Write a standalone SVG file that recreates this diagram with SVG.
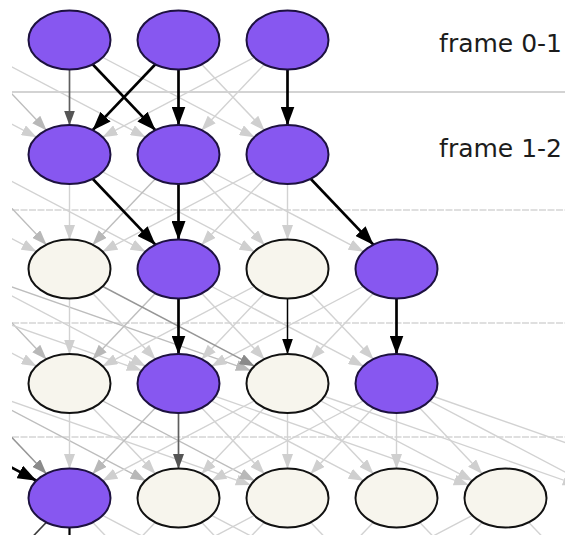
<svg xmlns="http://www.w3.org/2000/svg" width="565" height="535" viewBox="0 0 565 535">
  <defs>
    <style>
      .sep{stroke:#c0c0c0;stroke-width:1.2;stroke-dasharray:7 1.5;fill:none}
      .sep0{stroke:#a8a8a8;stroke-width:1.1;fill:none}
      line{fill:none}
      .f1{stroke:#d2d2d2;stroke-width:1.4;marker-end:url(#a1)}
      .f2{stroke:#bdbdbd;stroke-width:1.4;marker-end:url(#a2)}
      .g1{stroke:#969696;stroke-width:1.5;marker-end:url(#a3)}
      .g2{stroke:#5e5e5e;stroke-width:1.7;marker-end:url(#a4)}
      .b1{stroke:#000;stroke-width:2.7;marker-end:url(#a5)}
      .b2{stroke:#000;stroke-width:1.5;marker-end:url(#a6)}
      .n-on{fill:#8757f0;stroke:#1d1140;stroke-width:2}
      .n-off{fill:#f7f5ed;stroke:#111;stroke-width:2}
      .lbl{font-family:"DejaVu Sans",sans-serif;font-size:25px;fill:#1c1c1c}
    </style>
    <marker id="a1" markerUnits="userSpaceOnUse" markerWidth="15" markerHeight="11" refX="15" refY="5.5" orient="auto"><path d="M0,0L15,5.5L0,11z" fill="#cfcfcf"/></marker>
    <marker id="a2" markerUnits="userSpaceOnUse" markerWidth="15" markerHeight="11" refX="15" refY="5.5" orient="auto"><path d="M0,0L15,5.5L0,11z" fill="#b8b8b8"/></marker>
    <marker id="a3" markerUnits="userSpaceOnUse" markerWidth="15" markerHeight="11" refX="15" refY="5.5" orient="auto"><path d="M0,0L15,5.5L0,11z" fill="#8a8a8a"/></marker>
    <marker id="a4" markerUnits="userSpaceOnUse" markerWidth="15" markerHeight="11" refX="15" refY="5.5" orient="auto"><path d="M0,0L15,5.5L0,11z" fill="#555"/></marker>
    <marker id="a5" markerUnits="userSpaceOnUse" markerWidth="19" markerHeight="14" refX="19" refY="7" orient="auto"><path d="M0,0L19,7L0,14z" fill="#000"/></marker>
    <marker id="a6" markerUnits="userSpaceOnUse" markerWidth="16" markerHeight="11" refX="16" refY="5.5" orient="auto"><path d="M0,0L16,5.5L0,11z" fill="#000"/></marker>
    <clipPath id="plot"><rect x="12" y="0" width="553" height="535"/></clipPath>
  </defs>

  <rect width="565" height="535" fill="#fff"/>

  <!-- frame separators -->
  <g id="separators">
    <line class="sep0" x1="12" y1="92" x2="565" y2="92"/>
    <line class="sep" x1="12" y1="210" x2="565" y2="210"/>
    <line class="sep" x1="12" y1="323" x2="565" y2="323"/>
    <line class="sep" x1="12" y1="437" x2="565" y2="437"/>
  </g>

  <g id="connectors" clip-path="url(#plot)">
    <!-- frame 0-1 -->
    <line class="f1" x1="-148.5" y1="40" x2="36.6" y2="137.2"/>
    <line class="f2" x1="-39.5" y1="40" x2="46.6" y2="130.4"/>
    <line class="f1" x1="-39.5" y1="40" x2="145.6" y2="137.2"/>
    <line class="f1" x1="69.5" y1="40" x2="254.6" y2="137.2"/>
    <line class="f1" x1="178.5" y1="40" x2="264.6" y2="130.4"/>
    <line class="f1" x1="287.5" y1="40" x2="201.4" y2="130.4"/>
    <line class="f1" x1="287.5" y1="40" x2="102.4" y2="137.2"/>

    <!-- frame 1-2 -->
    <line class="f1" x1="-148.5" y1="154.5" x2="36.6" y2="251.7"/>
    <line class="f2" x1="-39.5" y1="154.5" x2="46.6" y2="244.9"/>
    <line class="f1" x1="-39.5" y1="154.5" x2="145.6" y2="251.7"/>
    <line class="f1" x1="69.5" y1="154.5" x2="69.5" y2="240"/>
    <line class="f1" x1="69.5" y1="154.5" x2="254.6" y2="251.7"/>
    <line class="f2" x1="178.5" y1="154.5" x2="92.4" y2="244.9"/>
    <line class="f1" x1="178.5" y1="154.5" x2="264.6" y2="244.9"/>
    <line class="f1" x1="178.5" y1="154.5" x2="363.6" y2="251.7"/>
    <line class="f1" x1="287.5" y1="154.5" x2="102.4" y2="251.7"/>
    <line class="f1" x1="287.5" y1="154.5" x2="201.4" y2="244.9"/>
    <line class="f1" x1="287.5" y1="154.5" x2="287.5" y2="240"/>

    <!-- frame 2-3 -->
    <line class="f1" x1="-148.5" y1="269" x2="36.6" y2="366.2"/>
    <line class="f2" x1="-39.5" y1="269" x2="46.6" y2="359.4"/>
    <line class="f1" x1="-39.5" y1="269" x2="145.6" y2="366.2"/>
    <line class="f1" x1="-148.5" y1="269" x2="141.8" y2="370.6"/>
    <line class="f2" x1="-39.5" y1="269" x2="250.8" y2="370.6"/>
    <line class="f1" x1="69.5" y1="269" x2="69.5" y2="354.5"/>
    <line class="f1" x1="69.5" y1="269" x2="155.6" y2="359.4"/>
    <line class="f2" x1="178.5" y1="269" x2="92.4" y2="359.4"/>
    <line class="f1" x1="178.5" y1="269" x2="264.6" y2="359.4"/>
    <line class="f1" x1="178.5" y1="269" x2="363.6" y2="366.2"/>
    <line class="f1" x1="287.5" y1="269" x2="102.4" y2="366.2"/>
    <line class="f1" x1="287.5" y1="269" x2="201.4" y2="359.4"/>
    <line class="f1" x1="287.5" y1="269" x2="373.6" y2="359.4"/>
    <line class="f1" x1="396.5" y1="269" x2="211.4" y2="366.2"/>
    <line class="f1" x1="396.5" y1="269" x2="310.4" y2="359.4"/>

    <!-- frame 3-4 -->
    <line class="g1" x1="-39.5" y1="383.5" x2="46.6" y2="473.9"/>
    <line class="f2" x1="-39.5" y1="383.5" x2="145.6" y2="480.7"/>
    <line class="f1" x1="-39.5" y1="383.5" x2="250.8" y2="485.1"/>
    <line class="f1" x1="69.5" y1="383.5" x2="69.5" y2="469"/>
    <line class="f1" x1="69.5" y1="383.5" x2="155.6" y2="473.9"/>
    <line class="f2" x1="69.5" y1="383.5" x2="254.6" y2="480.7"/>
    <line class="f2" x1="178.5" y1="383.5" x2="92.4" y2="473.9"/>
    <line class="f1" x1="178.5" y1="383.5" x2="264.6" y2="473.9"/>
    <line class="f1" x1="178.5" y1="383.5" x2="363.6" y2="480.7"/>
    <line class="f1" x1="178.5" y1="383.5" x2="468.8" y2="485.1"/>
    <line class="f1" x1="287.5" y1="383.5" x2="102.4" y2="480.7"/>
    <line class="f1" x1="287.5" y1="383.5" x2="201.4" y2="473.9"/>
    <line class="f1" x1="287.5" y1="383.5" x2="287.5" y2="469"/>
    <line class="f1" x1="287.5" y1="383.5" x2="373.6" y2="473.9"/>
    <line class="f1" x1="287.5" y1="383.5" x2="472.6" y2="480.7"/>
    <line class="f1" x1="287.5" y1="383.5" x2="577.8" y2="485.1"/>
    <line class="f1" x1="396.5" y1="383.5" x2="211.4" y2="480.7"/>
    <line class="f1" x1="396.5" y1="383.5" x2="310.4" y2="473.9"/>
    <line class="f1" x1="396.5" y1="383.5" x2="396.5" y2="469"/>
    <line class="f1" x1="396.5" y1="383.5" x2="482.4" y2="473.9"/>
    <line class="f1" x1="396.5" y1="383.5" x2="581.6" y2="480.7"/>
    <line class="f1" x1="396.5" y1="383.5" x2="686.8" y2="485.1"/>

    <!-- frame 4-5 (leaving the bottom edge) -->
    <line class="f1" x1="69.5" y1="498" x2="178.5" y2="612.5"/>
    <line class="f1" x1="69.5" y1="498" x2="287.5" y2="612.5"/>
    <line class="f1" x1="178.5" y1="498" x2="69.5" y2="612.5"/>
    <line class="f1" x1="178.5" y1="498" x2="287.5" y2="612.5"/>
    <line class="f1" x1="178.5" y1="498" x2="396.5" y2="612.5"/>
    <line class="f1" x1="287.5" y1="498" x2="178.5" y2="612.5"/>
    <line class="f1" x1="287.5" y1="498" x2="396.5" y2="612.5"/>
    <line class="f1" x1="287.5" y1="498" x2="69.5" y2="612.5"/>
    <line class="f1" x1="396.5" y1="498" x2="287.5" y2="612.5"/>
    <line class="f1" x1="396.5" y1="498" x2="505.5" y2="612.5"/>
    <line class="f1" x1="505.5" y1="498" x2="396.5" y2="612.5"/>
    <line class="f1" x1="505.5" y1="498" x2="614.5" y2="612.5"/>
    <line class="f1" x1="505.5" y1="498" x2="287.5" y2="612.5"/>
    <line x1="69.5" y1="498" x2="-39.5" y2="612.5" stroke="#3a3a3a" stroke-width="1.6"/>
    <line x1="69.5" y1="498" x2="69.5" y2="612.5" stroke="#000" stroke-width="2.2"/>

    <!-- highlighted path edges -->
    <line class="g2" x1="69.5" y1="40" x2="69.5" y2="125.5"/>
    <line class="b1" x1="69.5" y1="40" x2="155.6" y2="130.4"/>
    <line class="b1" x1="178.5" y1="40" x2="92.4" y2="130.4"/>
    <line class="b1" x1="178.5" y1="40" x2="178.5" y2="125.5"/>
    <line class="b1" x1="287.5" y1="40" x2="287.5" y2="125.5"/>

    <line class="b1" x1="69.5" y1="154.5" x2="155.6" y2="244.9"/>
    <line class="b1" x1="178.5" y1="154.5" x2="178.5" y2="240"/>
    <line class="b1" x1="287.5" y1="154.5" x2="373.6" y2="244.9"/>

    <line class="g1" x1="69.5" y1="269" x2="254.6" y2="366.2"/>
    <line class="b1" x1="178.5" y1="269" x2="178.5" y2="354.5"/>
    <line class="b2" x1="287.5" y1="269" x2="287.5" y2="354.5"/>
    <line class="b1" x1="396.5" y1="269" x2="396.5" y2="354.5"/>

    <line class="g2" x1="178.5" y1="383.5" x2="178.5" y2="469"/>
    <line class="b1" x1="-148.5" y1="383.5" x2="36.6" y2="480.7"/>
  </g>

  <!-- frame 0 -->
  <g id="n0_0"><ellipse class="n-on" cx="69.5" cy="40" rx="41" ry="29.5"/></g>
  <g id="n0_1"><ellipse class="n-on" cx="178.5" cy="40" rx="41" ry="29.5"/></g>
  <g id="n0_2"><ellipse class="n-on" cx="287.5" cy="40" rx="41" ry="29.5"/></g>
  <!-- frame 1 -->
  <g id="n1_0"><ellipse class="n-on" cx="69.5" cy="154.5" rx="41" ry="29.5"/></g>
  <g id="n1_1"><ellipse class="n-on" cx="178.5" cy="154.5" rx="41" ry="29.5"/></g>
  <g id="n1_2"><ellipse class="n-on" cx="287.5" cy="154.5" rx="41" ry="29.5"/></g>
  <!-- frame 2 -->
  <g id="n2_0"><ellipse class="n-off" cx="69.5" cy="269" rx="41" ry="29.5"/></g>
  <g id="n2_1"><ellipse class="n-on" cx="178.5" cy="269" rx="41" ry="29.5"/></g>
  <g id="n2_2"><ellipse class="n-off" cx="287.5" cy="269" rx="41" ry="29.5"/></g>
  <g id="n2_3"><ellipse class="n-on" cx="396.5" cy="269" rx="41" ry="29.5"/></g>
  <!-- frame 3 -->
  <g id="n3_0"><ellipse class="n-off" cx="69.5" cy="383.5" rx="41" ry="29.5"/></g>
  <g id="n3_1"><ellipse class="n-on" cx="178.5" cy="383.5" rx="41" ry="29.5"/></g>
  <g id="n3_2"><ellipse class="n-off" cx="287.5" cy="383.5" rx="41" ry="29.5"/></g>
  <g id="n3_3"><ellipse class="n-on" cx="396.5" cy="383.5" rx="41" ry="29.5"/></g>
  <!-- frame 4 -->
  <g id="n4_0"><ellipse class="n-on" cx="69.5" cy="498" rx="41" ry="29.5"/></g>
  <g id="n4_1"><ellipse class="n-off" cx="178.5" cy="498" rx="41" ry="29.5"/></g>
  <g id="n4_2"><ellipse class="n-off" cx="287.5" cy="498" rx="41" ry="29.5"/></g>
  <g id="n4_3"><ellipse class="n-off" cx="396.5" cy="498" rx="41" ry="29.5"/></g>
  <g id="n4_4"><ellipse class="n-off" cx="505.5" cy="498" rx="41" ry="29.5"/></g>

  <g id="labels">
    <text class="lbl" x="562" y="52" text-anchor="end">frame 0-1</text>
    <text class="lbl" x="562" y="157" text-anchor="end">frame 1-2</text>
  </g>
</svg>
